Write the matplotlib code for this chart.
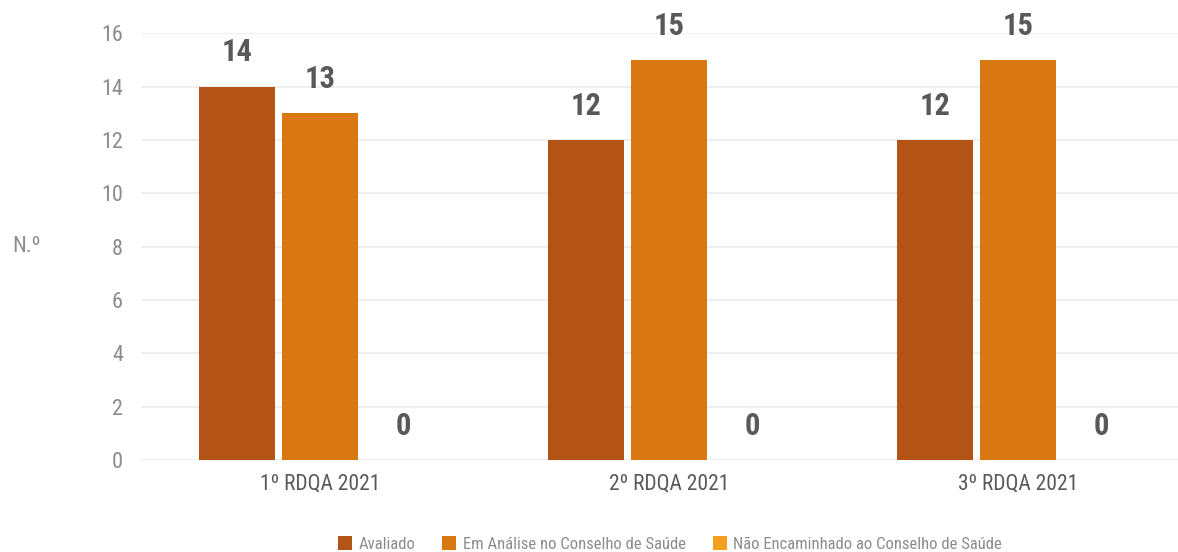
import matplotlib
matplotlib.use("Agg")
import matplotlib.pyplot as plt
from matplotlib import font_manager
from matplotlib.patches import Patch
import numpy as np

categories = ["1º RDQA 2021", "2º RDQA 2021", "3º RDQA 2021"]
series_names = ["Avaliado", "Em Análise no Conselho de Saúde",
                "Não Encaminhado ao Conselho de Saúde"]
avaliado = [14, 12, 12]
em_analise = [13, 15, 15]
nao_encaminhado = [0, 0, 0]
y_ticks = [0, 2, 4, 6, 8, 10, 12, 14, 16]
y_label = "N.º"

colors = ["#B35416", "#D97812", "#F29F1B"]

# Pick the narrowest sans family available
names = {f.name for f in font_manager.fontManager.ttflist}
FAM, STRETCH = "DejaVu Sans", "condensed"
for cand in ["Roboto Condensed", "Liberation Sans Narrow", "Open Sans Condensed"]:
    if cand in names:
        FAM, STRETCH = cand, "normal"
        break
plt.rcParams["font.family"] = FAM
plt.rcParams["font.stretch"] = STRETCH

W, H = 1178, 552
fig = plt.figure(figsize=(W / 100, H / 100), dpi=100)
ax = fig.add_axes([141 / W, (H - 460) / H, (W - 141) / W, (460 - 33.3) / H])

x = np.arange(len(categories))
offset = 0.238
width = 0.218
series = [avaliado, em_analise, nao_encaminhado]
for i, vals in enumerate(series):
    pos = x + (i - 1) * offset
    ax.bar(pos, vals, width=width, color=colors[i], zorder=2)
    for px_, v in zip(pos, vals):
        ax.annotate(f"{v}", (px_, v), xytext=(0, 14), textcoords="offset points",
                    ha="center", va="bottom", fontsize=22, color="#595959",
                    fontweight="bold")

ax.set_xlim((141 - 320) / 349, (1178 - 320) / 349)
ax.set_ylim(0, 16)
ax.set_yticks(y_ticks)
ax.set_yticklabels([str(t) for t in y_ticks])
ax.set_xticks(x)
ax.set_xticklabels(categories)
ax.yaxis.grid(True, color="#EBEBEB", linewidth=1.2, zorder=0)
ax.set_axisbelow(True)
for s in ax.spines.values():
    s.set_visible(False)
ax.tick_params(axis="y", length=0, pad=13, labelsize=16, labelcolor="#8C8C8C")
ax.tick_params(axis="x", length=0, pad=10, labelsize=15.5, labelcolor="#595959")

fig.text(12 / W, 1 - 247 / H, y_label, fontsize=16, color="#8C8C8C",
         ha="left", va="center")

handles = [Patch(facecolor=c, edgecolor="none") for c in colors]
fig.legend(handles, series_names, loc="center", bbox_to_anchor=(670 / W, 1 - 544 / H),
           ncol=3, frameon=False, fontsize=12, labelcolor="#8C8C8C",
           handlelength=0.85, handleheight=0.85, handletextpad=0.4, columnspacing=1.6)

fig.savefig("out.png", dpi=100)
